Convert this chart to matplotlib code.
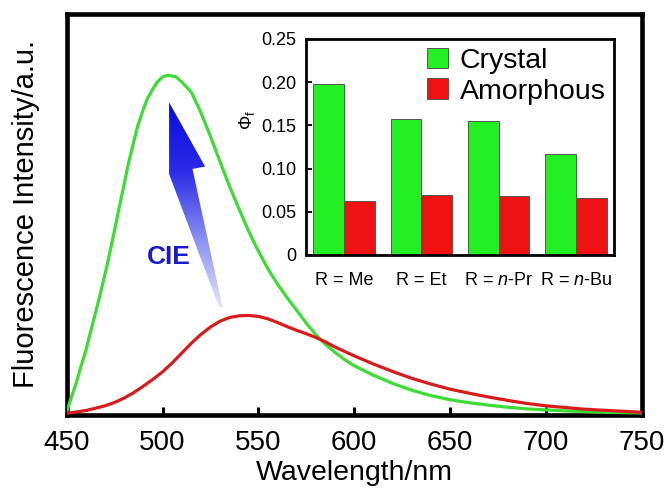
import matplotlib
matplotlib.use("Agg")
import matplotlib.pyplot as plt
import numpy as np
from matplotlib.patches import Polygon
from matplotlib.colors import LinearSegmentedColormap

plt.rcParams['font.family'] = ['Liberation Sans', 'DejaVu Sans']
plt.rcParams['mathtext.fontset'] = 'custom'
plt.rcParams['mathtext.rm'] = 'Liberation Sans'
plt.rcParams['mathtext.it'] = 'Liberation Sans:italic'

# Emission spectra
wl_crystal = [450, 452, 455, 457, 460, 462, 465, 467, 470, 472, 475, 477, 480, 482, 485,
              487, 490, 492, 495, 497, 500, 503, 507, 510, 515, 520, 525, 530, 535, 540,
              545, 550, 555, 560, 565, 570, 575, 580, 585, 590, 595, 600, 610, 620, 630,
              640, 650, 660, 670, 680, 690, 700, 710, 720, 730, 740, 750]
int_crystal = [0.01, 0.045, 0.095, 0.135, 0.19, 0.235, 0.30, 0.345, 0.415, 0.465, 0.545, 0.60,
               0.68, 0.735, 0.805, 0.85, 0.90, 0.93, 0.96, 0.978, 0.995, 1.00, 0.995, 0.98,
               0.95, 0.89, 0.82, 0.745, 0.672, 0.605, 0.54, 0.482, 0.43, 0.385, 0.345,
               0.308, 0.27, 0.236, 0.208, 0.184, 0.163, 0.145, 0.117, 0.093, 0.073, 0.057,
               0.045, 0.036, 0.029, 0.023, 0.018, 0.015, 0.012, 0.010, 0.008, 0.007, 0.006]

wl_amorph = [450, 460, 470, 475, 480, 485, 490, 495, 500, 505, 510, 515, 520, 525, 530,
             535, 540, 545, 550, 555, 560, 565, 570, 575, 580, 585, 590, 595, 600, 610,
             620, 630, 640, 650, 660, 670, 680, 690, 700, 710, 720, 730, 740, 750]
int_amorph = [0.005, 0.013, 0.027, 0.037, 0.05, 0.066, 0.085, 0.105, 0.127, 0.153, 0.182,
              0.211, 0.237, 0.259, 0.276, 0.287, 0.292, 0.293, 0.29, 0.283, 0.272, 0.26,
              0.249, 0.239, 0.228, 0.215, 0.2, 0.187, 0.174, 0.15, 0.128, 0.108, 0.091,
              0.076, 0.064, 0.053, 0.043, 0.034, 0.027, 0.022, 0.017, 0.014, 0.011, 0.008]

# Quantum yields (inset)
groups = ['R = Me', 'R = Et', r'R = $\mathit{n}$-Pr', r'R = $\mathit{n}$-Bu']
phi_crystal = [0.198, 0.157, 0.155, 0.117]
phi_amorph = [0.063, 0.069, 0.068, 0.066]
inset_ticks = [0, 0.05, 0.10, 0.15, 0.20, 0.25]
inset_ticklabels = ['0', '0.05', '0.10', '0.15', '0.20', '0.25']

# arrow outline (wavelength, intensity)
arrow_x = [503.4, 522.2, 515.6, 531.3, 529.5, 503.4]
arrow_y = [0.920, 0.731, 0.724, 0.317, 0.317, 0.709]

fig = plt.figure(figsize=(6.72, 4.91), dpi=100)
ax = fig.add_axes([0.0993, 0.1548, 0.8557, 0.8167])

ax.plot(wl_crystal, int_crystal, color='#3ddc35', lw=2.3, zorder=3, solid_joinstyle='round')
ax.plot(wl_amorph, int_amorph, color='#d81c1c', lw=2.3, zorder=3, solid_joinstyle='round')

ax.set_xlim(450, 750)
ax.set_ylim(0, 1.18)
ax.set_xticks([450, 500, 550, 600, 650, 700, 750])
ax.set_yticks([])
ax.tick_params(axis='x', direction='in', length=6, width=2.2, labelsize=20, pad=11)
for s in ax.spines.values():
    s.set_linewidth(3.3)
ax.set_xlabel('Wavelength/nm', fontsize=20.5, labelpad=3)
ax.set_ylabel('Fluorescence Intensity/a.u.', fontsize=21, labelpad=19)

# gradient arrow + CIE
poly = Polygon(np.column_stack([arrow_x, arrow_y]), closed=True, fc='none', ec='none')
ax.add_patch(poly)
cmap = LinearSegmentedColormap.from_list('bl', ['#e2e6ff', '#8890f2', '#2a2ae6', '#0a0ae0'])
grad = np.linspace(0, 1, 256).reshape(-1, 1)
im = ax.imshow(grad, cmap=cmap, aspect='auto', origin='lower',
               extent=[min(arrow_x), max(arrow_x), min(arrow_y), max(arrow_y)], zorder=2)
im.set_clip_path(poly)
ax.set_xlim(450, 750)
ax.set_ylim(0, 1.18)
ax.text(503.5, 0.465, 'CIE', color='#1a1acc', fontsize=19, fontweight='bold',
        ha='center', va='center')

# inset
ins = fig.add_axes([0.4549, 0.4807, 0.4592, 0.4399])
x = np.arange(len(groups))
w = 0.4
ins.bar(x - w/2, phi_crystal, w, color='#22f022', edgecolor='#555555', lw=0.7, label='Crystal')
ins.bar(x + w/2, phi_amorph, w, color='#f01212', edgecolor='#555555', lw=0.7, label='Amorphous')
ins.set_xlim(-0.5, 3.5)
ins.set_ylim(0, 0.25)
ins.set_yticks(inset_ticks)
ins.set_yticklabels(inset_ticklabels)
ins.set_xticks(x)
ins.set_xticklabels(groups)
ins.tick_params(axis='y', direction='in', length=4, width=1.3, labelsize=13, pad=7)
ins.tick_params(axis='x', length=0, labelsize=13, pad=12)
for s in ins.spines.values():
    s.set_linewidth(2)
ins.set_ylabel(r'$\mathit{\Phi}_\mathrm{f}$', fontsize=13, va='center')
ins.yaxis.set_label_coords(-0.19, 0.625)
ins.legend(loc='upper right', bbox_to_anchor=(1.0, 1.0), frameon=False, fontsize=20.5,
           handlelength=0.75, handleheight=0.75, handletextpad=0.4, labelspacing=0.15,
           borderpad=0.1, borderaxespad=0.2)

fig.savefig('out.png', dpi=100)
